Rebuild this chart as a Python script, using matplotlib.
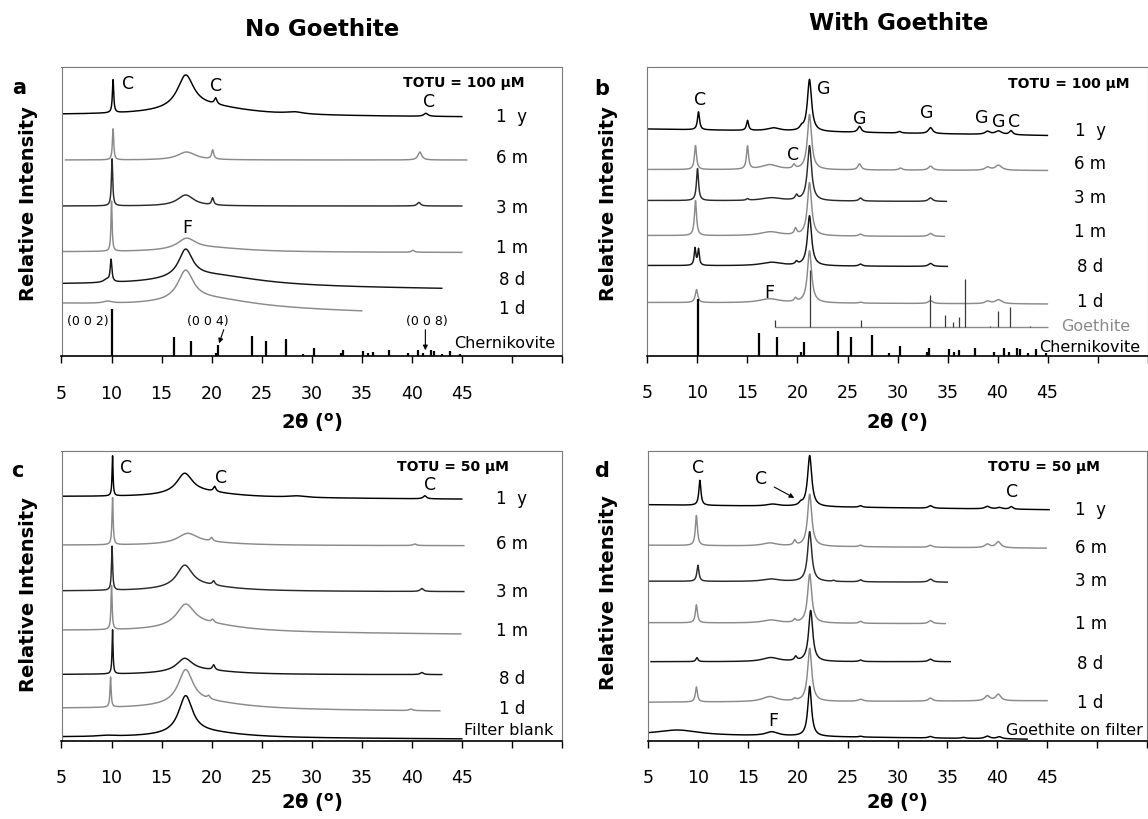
import numpy as np
import matplotlib
matplotlib.use("Agg")
import matplotlib.pyplot as plt

plt.rcParams['font.family'] = ['DejaVu Sans']
plt.rcParams['mathtext.default'] = 'regular'

# ---------------------------------------------------------------- data
# Every pattern: 2-theta range, linear background (start, end) and a list of
# Lorentzian reflections (2-theta, height, FWHM); intensities are in arbitrary
# units with a common vertical offset per sample age.
AGES = ["1  y", "6 m", "3 m", "1 m", "8 d", "1 d"]

# (a) TOTU = 100 uM, no goethite
a_range = [(5, 45), (5.4, 45.5), (5, 45), (5, 45), (5, 43), (5, 35)]
a_base = [(241, 239), (196, 196), (150, 150), (104, 103.5), (71, 67), (51.8, 44)]
a_peaks = [
    [(10.15, 33, 0.16), (17.4, 33, 2.0), (19.5, 9, 10), (20.4, 6, 0.3), (28.3, 2, 2.0), (41.4, 3, 0.5)],
    [(10.15, 31, 0.16), (17.5, 8, 2.2), (20.1, 9, 0.25), (40.8, 8, 0.45)],
    [(10.05, 47, 0.16), (17.4, 11, 2.0), (20.1, 7, 0.25), (40.7, 3.5, 0.4)],
    [(10.0, 50, 0.14), (17.5, 11, 2.2), (20.0, 4, 9), (40.1, 2, 0.3)],
    [(9.95, 22, 0.2), (9.5, 3, 0.7), (17.4, 28, 1.7), (20.0, 11, 12)],
    [(9.6, 2, 1.0), (17.4, 30, 1.9), (20.0, 9, 11)],
]

# (b) TOTU = 100 uM, with goethite
b_range = [(5, 45), (5, 45), (5, 34.9), (5, 34.7), (5, 35), (5, 45)]
b_base = [(226.5, 220), (186, 185), (155, 154), (120, 119), (90, 89), (53, 51.5)]
b_peaks = [
    [(10.1, 18, 0.25), (15.0, 10, 0.25), (17.6, 3, 1.5), (20.4, 3, 0.4), (21.2, 52, 0.5),
     (26.2, 6, 0.4), (30.2, 1.5, 0.4), (33.3, 6, 0.5), (39.0, 3, 0.6), (40.1, 3.5, 0.8), (41.35, 4, 0.4)],
    [(9.8, 24, 0.25), (15.0, 23, 0.25), (17.2, 5, 2.0), (19.65, 4, 0.3), (21.2, 55, 0.5),
     (26.2, 6, 0.4), (30.3, 2, 0.4), (33.3, 4, 0.5), (39.0, 3, 0.6), (40.1, 5, 0.8)],
    [(10.0, 32, 0.25), (15.0, 1.5, 0.3), (17.4, 3, 2.5), (19.9, 4.5, 0.3), (21.2, 55, 0.5),
     (26.3, 3, 0.4), (33.3, 3.5, 0.5)],
    [(9.8, 35, 0.25), (17.3, 4, 2.5), (19.8, 6, 0.3), (21.2, 53, 0.5), (26.3, 2, 0.4), (33.3, 3, 0.5)],
    [(9.75, 17, 0.2), (10.1, 16, 0.2), (17.4, 3.5, 2.5), (19.9, 3, 0.3), (21.2, 50, 0.5),
     (26.3, 2, 0.4), (33.3, 3, 0.5)],
    [(9.9, 13, 0.3), (17.2, 4, 2.5), (19.8, 3.5, 0.3), (21.2, 52, 0.5), (26.3, 1, 0.4),
     (33.3, 3, 0.5), (39.0, 2.5, 0.6), (40.1, 4, 0.8)],
]

# (c) TOTU = 50 uM, no goethite (plus filter blank)
c_range = [(5, 45), (5.2, 45.2), (5.2, 45.2), (5, 44.9), (5, 43), (5, 42.8), (5, 45)]
c_base = [(244, 241.5), (195.5, 195), (149.5, 149), (110, 106.5), (66, 66), (32, 29.5), (3.5, 1.7)]
c_peaks = [
    [(10.1, 40, 0.12), (17.3, 20, 1.9), (19.0, 5, 8), (20.3, 5, 0.3), (28.5, 1.5, 2), (41.3, 3, 0.4)],
    [(10.1, 47, 0.14), (17.6, 10, 2.4), (19.5, 2.5, 8), (20.0, 3.5, 0.3), (40.3, 1.5, 0.4)],
    [(10.05, 44, 0.14), (17.3, 22, 1.9), (19.0, 5, 8), (20.2, 4, 0.3), (41.0, 3, 0.4)],
    [(10.0, 44, 0.14), (17.4, 22, 2.2), (19.5, 7, 9), (20.1, 3, 0.3)],
    [(10.1, 44, 0.12), (17.3, 13, 1.9), (19.0, 4, 8), (20.2, 5, 0.3), (41.0, 2, 0.4)],
    [(9.9, 30, 0.14), (17.4, 34, 1.8), (19.5, 7, 10), (19.7, 3, 0.3), (39.9, 1.5, 0.4)],
    [(9.5, 1, 2), (17.4, 38, 1.7), (19.5, 5, 9)],
]

# (d) TOTU = 50 uM, with goethite (plus goethite on filter)
d_range = [(5, 45.2), (5, 44.9), (5, 35.0), (5, 34.8), (5.3, 35.3), (5, 45), (5, 43)]
d_base = [(236, 231), (195.5, 192.5), (159.5, 158.5), (118, 117), (79, 79), (38.5, 40), (6, 1.5)]
d_peaks = [
    [(10.2, 25, 0.25), (17.5, 2, 1.5), (20.3, 2.5, 0.4), (21.2, 51, 0.5), (26.3, 1.5, 0.4),
     (33.3, 2.5, 0.5), (39.0, 2.5, 0.6), (40.2, 1.5, 0.6), (41.4, 2.5, 0.4)],
    [(9.85, 30, 0.25), (17.2, 3, 1.8), (19.7, 5, 0.3), (21.2, 52, 0.5), (26.3, 1.5, 0.4),
     (33.3, 2, 0.5), (39.0, 3.5, 0.6), (40.1, 6, 0.6)],
    [(10.0, 16, 0.25), (17.3, 2.5, 2), (21.2, 50, 0.5), (23.6, 1, 0.3), (26.3, 2, 0.4), (33.3, 3, 0.5)],
    [(9.85, 18, 0.25), (17.3, 3, 2), (19.7, 3, 0.3), (21.2, 49, 0.5), (26.3, 2, 0.4), (33.3, 3, 0.5)],
    [(9.9, 4, 0.25), (17.3, 4, 2), (19.8, 4, 0.3), (21.3, 51, 0.5), (26.3, 1.5, 0.4), (33.3, 2.5, 0.5)],
    [(9.85, 15, 0.25), (17.2, 5, 1.8), (19.7, 2, 0.3), (21.2, 53, 0.5), (26.3, 2, 0.6),
     (33.3, 3, 0.5), (39.0, 5, 0.6), (40.1, 6.5, 0.6)],
    [(8.0, 5, 5), (17.4, 4, 1.5), (21.2, 50, 0.45), (26.3, 0.8, 0.4), (33.3, 1.5, 0.5),
     (36.6, 1, 0.5), (39.0, 2.5, 0.6), (40.2, 2, 0.6)],
]

# Reference stick patterns (relative intensity, strongest = 100)
cher_pos = [10.07, 16.2, 17.95, 20.4, 20.6, 24.0, 25.4, 27.4, 29.1, 30.25, 32.9, 33.15,
            35.1, 35.6, 36.1, 37.7, 39.6, 40.6, 41.1, 41.9, 42.2, 43.0, 43.8, 44.8]
cher_int = [100, 40, 32, 6, 23, 43, 32, 36, 4, 17, 6, 13, 11, 6, 9, 13, 6, 13, 6, 13, 11, 4, 11, 4]
goe_pos = [17.75, 21.25, 26.35, 33.25, 34.7, 35.5, 36.1, 36.7, 39.2, 40.0, 41.25, 43.25]
goe_int = [13, 100, 12, 56, 21, 9, 18, 84, 3, 28, 35, 3]

# ---------------------------------------------------------------- styling
BLACK, DARK, GRAY = '#000000', '#2a2a2a', '#8a8a8a'
AGE_COLORS = [BLACK, GRAY, DARK, GRAY, '#151515', GRAY]
W, H = 1148, 820

fig = plt.figure(figsize=(W / 100, H / 100), dpi=100)


def make_axes(left, right, top, bottom):
    ax = fig.add_axes([left / W, 1 - bottom / H, (right - left) / W, (bottom - top) / H])
    ax.set_xlim(5, 55)
    ax.set_ylim(0, bottom - top)
    ax.set_yticks([])
    ax.set_xticks(np.arange(5, 56, 5))
    ax.set_xticklabels([str(v) if v <= 45 else '' for v in range(5, 56, 5)])
    ax.tick_params(axis='x', direction='out', length=5, width=1.0, pad=15, labelsize=12.5)
    for side in ('left', 'top', 'right'):
        ax.spines[side].set_color('#7a7a7a')
        ax.spines[side].set_linewidth(0.8)
    ax.spines['bottom'].set_linewidth(1.2)
    return ax


def draw_pattern(ax, xr, base, peaks, color):
    x = np.arange(xr[0], xr[1], 0.01)
    y = base[0] + (base[1] - base[0]) * (x - xr[0]) / (xr[1] - xr[0])
    for c, h, w in peaks:
        y = y + h / (1 + ((x - c) / (w / 2)) ** 2)
    ax.plot(x, y, color=color, lw=1.05)


def draw_ages(ax, x, ys):
    for lab, y in zip(AGES, ys):
        ax.text(x, y, lab, ha='center', va='baseline', fontsize=12)


def marks(ax, items, size=12.5):
    for s, x, y in items:
        ax.text(x, y, s, ha='center', va='baseline', fontsize=size)


ax_a = make_axes(61.5, 562, 68, 357)
ax_b = make_axes(647.5, 1147.5, 68.3, 356.5)
ax_c = make_axes(61.5, 562, 451.7, 741.7)
ax_d = make_axes(648, 1147, 451.7, 741.7)

# ---- panel a
for xr, base, pk, col in zip(a_range, a_base, a_peaks, AGE_COLORS):
    draw_pattern(ax_a, xr, base, pk, col)
ax_a.vlines(cher_pos, 0, np.array(cher_int) * 0.47, color=BLACK, lw=1.6)
draw_ages(ax_a, 50.0, [235.3, 193.7, 143.7, 103.7, 72, 43])
marks(ax_a, [('C', 11.6, 267.7), ('C', 20.4, 266.3), ('C', 41.7, 249.7), ('F', 17.55, 124.3)])
for s, x in [('(0 0 2)', 7.58), ('(0 0 4)', 19.58), ('(0 0 8)', 41.5)]:
    ax_a.text(x, 32, s, ha='center', va='baseline', fontsize=9)
ax_a.annotate('', xy=(20.65, 10), xytext=(21.3, 29),
              arrowprops=dict(arrowstyle='-|>', lw=0.8, color=BLACK, mutation_scale=7))
ax_a.annotate('', xy=(41.35, 3), xytext=(41.35, 29),
              arrowprops=dict(arrowstyle='-|>', lw=0.8, color=BLACK, mutation_scale=7))
ax_a.text(44.2, 8.7, 'Chernikovite', ha='left', va='baseline', fontsize=11.5)
ax_a.text(51.3, 274.5, 'TOTU = 100 µM', ha='right', va='center', fontsize=10, fontweight='bold')

# ---- panel b
for xr, base, pk, col in zip(b_range, b_base, b_peaks, AGE_COLORS):
    draw_pattern(ax_b, xr, base, pk, col)
goe_base = 28.2
ax_b.hlines(goe_base, goe_pos[0], 45, color=GRAY, lw=1.0)
ax_b.vlines(goe_pos, goe_base, goe_base + np.array(goe_int) * 0.57, color='#3a3a3a', lw=0.9)
ax_b.vlines(cher_pos, 0, np.array(cher_int) * 0.57, color=BLACK, lw=1.6)
draw_ages(ax_b, 49.3, [220.5, 187.2, 153.8, 119.8, 84.8, 49.2])
marks(ax_b, [('C', 10.22, 251.5), ('G', 22.66, 262.2), ('G', 26.23, 232.2), ('G', 32.9, 238.2),
             ('G', 38.4, 233.8), ('G', 40.1, 229.2), ('C', 41.7, 229.2), ('C', 19.53, 196.5),
             ('F', 17.14, 58.2)])
ax_b.text(46.4, 25.5, 'Goethite', ha='left', va='baseline', fontsize=11.5, color=GRAY)
ax_b.text(44.2, 4.2, 'Chernikovite', ha='left', va='baseline', fontsize=11.5)
ax_b.text(53.2, 273, 'TOTU = 100 µM', ha='right', va='center', fontsize=10, fontweight='bold')

# ---- panel c
c_colors = AGE_COLORS + [BLACK]
for xr, base, pk, col in zip(c_range, c_base, c_peaks, c_colors):
    draw_pattern(ax_c, xr, base, pk, col)
draw_ages(ax_c, 50.0, [237.7, 192.4, 144.4, 105.7, 57.7, 27.7])
marks(ax_c, [('C', 11.46, 269), ('C', 20.98, 259), ('C', 41.8, 251.7)])
ax_c.text(45.2, 6.7, 'Filter blank', ha='left', va='baseline', fontsize=11.5)
ax_c.text(49.65, 275, 'TOTU = 50 µM', ha='right', va='center', fontsize=10, fontweight='bold')

# ---- panel d
d_colors = AGE_COLORS + [BLACK]
for xr, base, pk, col in zip(d_range, d_base, d_peaks, d_colors):
    draw_pattern(ax_d, xr, base, pk, col)
draw_ages(ax_d, 49.35, [226.4, 188.4, 155.7, 112.4, 72.4, 33.4])
marks(ax_d, [('C', 10.0, 269), ('C', 16.33, 257.7), ('C', 41.5, 244.4), ('F', 17.55, 15.7)])
ax_d.annotate('', xy=(19.9, 241.5), xytext=(17.4, 255),
              arrowprops=dict(arrowstyle='-|>', lw=0.8, color=BLACK, mutation_scale=7))
ax_d.text(40.87, 6.7, 'Goethite on filter', ha='left', va='baseline', fontsize=11.5, clip_on=False)
ax_d.text(50.3, 275, 'TOTU = 50 µM', ha='right', va='center', fontsize=10, fontweight='bold')

# ---- figure-level labels
def ftext(px, py, s, **kw):
    fig.text(px / W, 1 - py / H, s, **kw)


ftext(322, 29, 'No Goethite', ha='center', va='center', fontsize=16.5, fontweight='bold')
ftext(899, 23.5, 'With Goethite', ha='center', va='center', fontsize=16.5, fontweight='bold')
for px, py in [(29, 204), (609, 204), (29, 595), (609, 593)]:
    ftext(px, py, 'Relative Intensity', ha='center', va='center', rotation=90,
          fontsize=14, fontweight='bold')
for px, py, s in [(19.5, 94, 'a'), (601.5, 95, 'b'), (17.6, 476.7, 'c'), (601.5, 476.7, 'd')]:
    ftext(px, py, s, ha='center', va='baseline', fontsize=15, fontweight='bold')
xlab = '2θ ($^{o}$)'
for px, py in [(312, 423), (897.5, 423), (312, 803), (897.5, 803)]:
    ftext(px, py, xlab, ha='center', va='center', fontsize=14, fontweight='bold')

fig.savefig('out.png', dpi=100)
